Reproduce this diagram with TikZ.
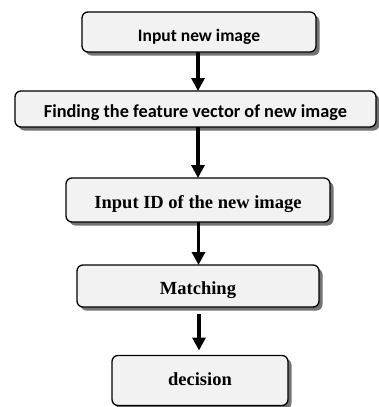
\documentclass[tikz,border=0pt]{standalone}
\usepackage{fontspec}
\setmainfont{Liberation Serif}
\newfontfamily\calfont{Carlito}
\usetikzlibrary{shadows,arrows.meta}
\tikzset{
  flowbox/.style={draw=black, line width=1.3pt, rounded corners=6pt, fill=black!5,
    inner sep=0pt, outer sep=0pt, align=center, text depth=0pt,
    drop shadow={shadow xshift=3.5pt, shadow yshift=-3.5pt, fill=black!55, opacity=1}},
  sansfont/.style={font=\calfont\bfseries\fontsize{17.5}{20}\selectfont},
  sansfontb/.style={font=\calfont\bfseries\fontsize{18.3}{20}\selectfont},
  seriffont/.style={font=\bfseries\fontsize{18.5}{20}\selectfont},
  flowarrow/.style={line width=3.2pt, -{Triangle[width=13pt,length=13pt]}}
}
\begin{document}
\begin{tikzpicture}[x=1pt,y=-1pt]
\useasboundingbox (0,0) rectangle (378,407);
\node[flowbox, sansfont, minimum width=234pt, minimum height=40pt, text height=19pt] (b1) at (199,32) {Input new image};
\node[flowbox, sansfontb, minimum width=361pt, minimum height=36pt, text height=16pt] (b2) at (195.5,109) {Finding the feature vector of new image};
\node[flowbox, seriffont, minimum width=264pt, minimum height=44pt, text height=16pt] (b3) at (198,200) {Input ID of the new image};
\node[flowbox, seriffont, minimum width=242pt, minimum height=42pt, text height=16pt] (b4) at (198,286) {Matching};
\node[flowbox, seriffont, minimum width=176pt, minimum height=50pt, text height=9pt] (b5) at (200,380.5) {decision};
\coordinate (a1s) at (198,52);
\coordinate (a2s) at (198,127);
\coordinate (a3s) at (198.5,222);
\coordinate (a4s) at (199,314);
\draw[flowarrow] (a1s) -- (a1s |- b2.north);
\draw[flowarrow] (a2s) -- (a2s |- b3.north);
\draw[flowarrow] (a3s) -- (a3s |- b4.north);
\draw[flowarrow] (a4s) -- ([yshift=5pt]a4s |- b5.north);
\end{tikzpicture}
\end{document}
